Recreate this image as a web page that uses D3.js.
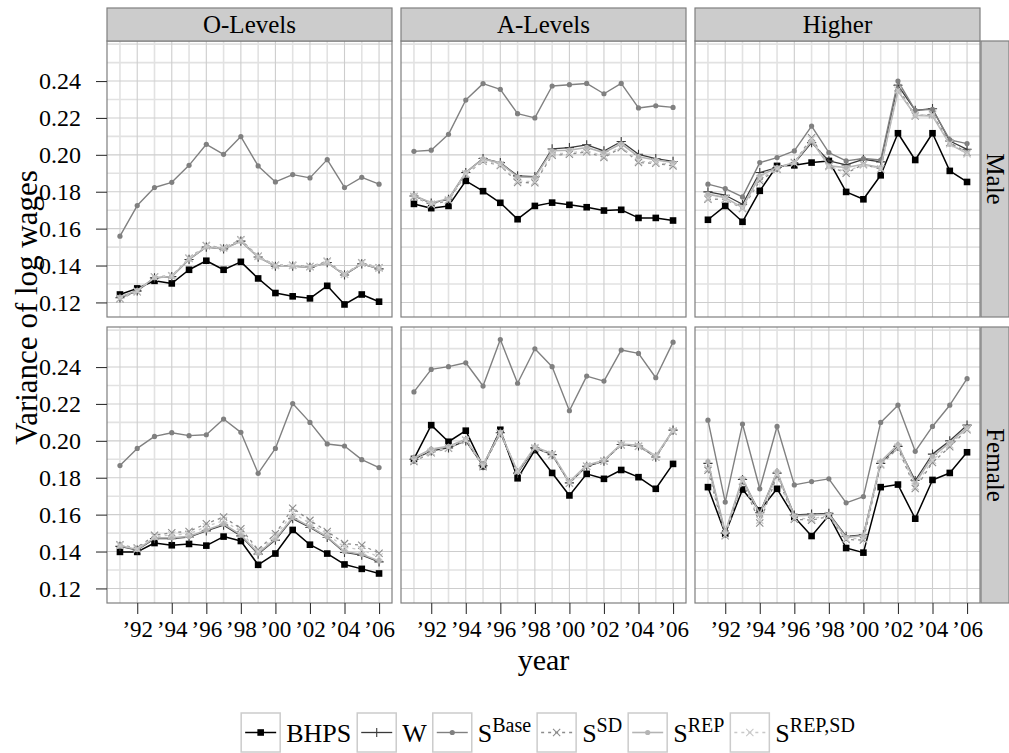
<!DOCTYPE html>
<html>
<head>
<meta charset="utf-8">
<script src="https://cdn.jsdelivr.net/npm/d3@7"></script>
<style>
  body { margin: 0; background: #fff; }
  svg text { font-family: "Liberation Serif", "DejaVu Serif", serif; fill: #000; }
</style>
</head>
<body>
<svg id="chart" width="1009" height="753" font-family="Liberation Serif, DejaVu Serif, serif"></svg>
<script>
// ---- categories and ticks ----
const years = [1991, 1992, 1993, 1994, 1995, 1996, 1997, 1998, 1999, 2000, 2001, 2002, 2003, 2004, 2005, 2006];
const educations = ["O-Levels", "A-Levels", "Higher"];
const sexes = ["Male", "Female"];
const xTickYears = [1992, 1994, 1996, 1998, 2000, 2002, 2004, 2006];
const xTickLabels = ["’92", "’94", "’96", "’98", "’00", "’02", "’04", "’06"];
const yTickValues = [0.12, 0.14, 0.16, 0.18, 0.20, 0.22, 0.24];
const yTickLabels = ["0.12", "0.14", "0.16", "0.18", "0.20", "0.22", "0.24"];

// ---- Male, O-Levels ----
const bhpsMaleO   = [0.1243, 0.1276, 0.1317, 0.1303, 0.1377, 0.1426, 0.1377, 0.1420, 0.1330, 0.1251, 0.1233, 0.1222, 0.1290, 0.1189, 0.1243, 0.1204];
const wMaleO      = [0.1225, 0.1262, 0.1333, 0.1340, 0.1433, 0.1500, 0.1490, 0.1532, 0.1446, 0.1396, 0.1397, 0.1390, 0.1416, 0.1349, 0.1409, 0.1382];
const baseMaleO   = [0.1559, 0.1725, 0.1823, 0.1851, 0.1943, 0.2057, 0.2003, 0.2099, 0.1940, 0.1853, 0.1893, 0.1875, 0.1974, 0.1823, 0.1878, 0.1841];
const sdMaleO     = [0.1220, 0.1258, 0.1338, 0.1345, 0.1440, 0.1508, 0.1497, 0.1540, 0.1451, 0.1402, 0.1401, 0.1395, 0.1423, 0.1353, 0.1415, 0.1388];
const repMaleO    = [0.1229, 0.1265, 0.1334, 0.1340, 0.1434, 0.1501, 0.1490, 0.1531, 0.1445, 0.1397, 0.1396, 0.1390, 0.1415, 0.1351, 0.1410, 0.1383];
const repsdMaleO  = [0.1223, 0.1260, 0.1337, 0.1343, 0.1438, 0.1506, 0.1495, 0.1537, 0.1449, 0.1400, 0.1400, 0.1393, 0.1420, 0.1352, 0.1413, 0.1386];

// ---- Male, A-Levels ----
const bhpsMaleA   = [0.1734, 0.1711, 0.1723, 0.1859, 0.1803, 0.1740, 0.1651, 0.1723, 0.1741, 0.1729, 0.1716, 0.1698, 0.1702, 0.1658, 0.1658, 0.1644];
const wMaleA      = [0.1777, 0.1738, 0.1759, 0.1904, 0.1980, 0.1958, 0.1886, 0.1882, 0.2032, 0.2039, 0.2054, 0.2021, 0.2072, 0.2003, 0.1980, 0.1964];
const baseMaleA   = [0.2019, 0.2025, 0.2111, 0.2297, 0.2386, 0.2355, 0.2223, 0.2200, 0.2373, 0.2380, 0.2387, 0.2331, 0.2387, 0.2254, 0.2266, 0.2257];
const sdMaleA     = [0.1772, 0.1730, 0.1752, 0.1895, 0.1965, 0.1942, 0.1850, 0.1848, 0.1998, 0.2003, 0.2016, 0.1985, 0.2039, 0.1958, 0.1954, 0.1940];
const repMaleA    = [0.1780, 0.1740, 0.1762, 0.1905, 0.1978, 0.1955, 0.1880, 0.1878, 0.2022, 0.2025, 0.2040, 0.2012, 0.2060, 0.1990, 0.1972, 0.1958];
const repsdMaleA  = [0.1776, 0.1733, 0.1756, 0.1898, 0.1968, 0.1946, 0.1858, 0.1855, 0.2005, 0.2010, 0.2022, 0.1993, 0.2045, 0.1965, 0.1960, 0.1946];

// ---- Male, Higher ----
const bhpsMaleH   = [0.1648, 0.1723, 0.1637, 0.1805, 0.1940, 0.1943, 0.1958, 0.1967, 0.1799, 0.1759, 0.1889, 0.2117, 0.1972, 0.2117, 0.1913, 0.1853];
const wMaleH      = [0.1799, 0.1781, 0.1732, 0.1904, 0.1931, 0.1954, 0.2066, 0.1967, 0.1945, 0.1976, 0.1962, 0.2377, 0.2241, 0.2250, 0.2075, 0.2030];
const baseMaleH   = [0.1841, 0.1817, 0.1772, 0.1958, 0.1985, 0.2021, 0.2156, 0.2012, 0.1967, 0.1980, 0.1972, 0.2400, 0.2241, 0.2247, 0.2081, 0.2061];
const sdMaleH     = [0.1759, 0.1759, 0.1709, 0.1859, 0.1922, 0.1958, 0.2093, 0.1940, 0.1900, 0.1949, 0.1922, 0.2364, 0.2211, 0.2220, 0.2066, 0.2012];
const repMaleH    = [0.1787, 0.1768, 0.1714, 0.1886, 0.1931, 0.1958, 0.2075, 0.1940, 0.1931, 0.1949, 0.1931, 0.2346, 0.2214, 0.2211, 0.2057, 0.2008];
const repsdMaleH  = [0.1765, 0.1762, 0.1712, 0.1870, 0.1925, 0.1955, 0.2085, 0.1935, 0.1910, 0.1945, 0.1925, 0.2350, 0.2215, 0.2215, 0.2060, 0.2005];

// ---- Female, O-Levels ----
const bhpsFemaleO  = [0.1398, 0.1398, 0.1446, 0.1434, 0.1441, 0.1432, 0.1481, 0.1457, 0.1328, 0.1389, 0.1517, 0.1437, 0.1389, 0.1330, 0.1306, 0.1281];
const wFemaleO     = [0.1428, 0.1408, 0.1470, 0.1470, 0.1478, 0.1512, 0.1543, 0.1485, 0.1386, 0.1462, 0.1578, 0.1530, 0.1476, 0.1395, 0.1380, 0.1344];
const baseFemaleO  = [0.1866, 0.1959, 0.2024, 0.2044, 0.2028, 0.2033, 0.2118, 0.2046, 0.1824, 0.1959, 0.2202, 0.2100, 0.1983, 0.1972, 0.1898, 0.1855];
const sdFemaleO    = [0.1437, 0.1419, 0.1488, 0.1502, 0.1509, 0.1551, 0.1587, 0.1524, 0.1410, 0.1497, 0.1635, 0.1569, 0.1509, 0.1443, 0.1434, 0.1391];
const repFemaleO   = [0.1431, 0.1411, 0.1474, 0.1475, 0.1482, 0.1517, 0.1549, 0.1490, 0.1391, 0.1468, 0.1585, 0.1535, 0.1480, 0.1400, 0.1385, 0.1349];
const repsdFemaleO = [0.1433, 0.1414, 0.1480, 0.1490, 0.1495, 0.1535, 0.1568, 0.1508, 0.1400, 0.1482, 0.1610, 0.1552, 0.1495, 0.1422, 0.1410, 0.1370];

// ---- Female, A-Levels ----
const bhpsFemaleA  = [0.1902, 0.2085, 0.1995, 0.2055, 0.1862, 0.2060, 0.1797, 0.1950, 0.1826, 0.1704, 0.1821, 0.1794, 0.1842, 0.1803, 0.1740, 0.1875];
const wFemaleA     = [0.1900, 0.1945, 0.1962, 0.2000, 0.1865, 0.2044, 0.1825, 0.1962, 0.1925, 0.1772, 0.1862, 0.1890, 0.1980, 0.1972, 0.1912, 0.2058];
const baseFemaleA  = [0.2265, 0.2387, 0.2402, 0.2423, 0.2297, 0.2549, 0.2312, 0.2499, 0.2402, 0.2163, 0.2351, 0.2324, 0.2492, 0.2474, 0.2342, 0.2535];
const sdFemaleA    = [0.1888, 0.1935, 0.1960, 0.2003, 0.1860, 0.2040, 0.1835, 0.1960, 0.1925, 0.1770, 0.1862, 0.1890, 0.1978, 0.1970, 0.1912, 0.2052];
const repFemaleA   = [0.1908, 0.1955, 0.1970, 0.2008, 0.1870, 0.2048, 0.1832, 0.1967, 0.1931, 0.1778, 0.1868, 0.1895, 0.1983, 0.1976, 0.1918, 0.2057];
const repsdFemaleA = [0.1895, 0.1940, 0.1963, 0.2004, 0.1864, 0.2042, 0.1838, 0.1963, 0.1927, 0.1773, 0.1864, 0.1892, 0.1979, 0.1972, 0.1914, 0.2054];

// ---- Female, Higher ----
const bhpsFemaleH  = [0.1749, 0.1497, 0.1736, 0.1623, 0.1740, 0.1587, 0.1484, 0.1596, 0.1419, 0.1394, 0.1749, 0.1763, 0.1578, 0.1788, 0.1826, 0.1938];
const wFemaleH     = [0.1878, 0.1500, 0.1790, 0.1610, 0.1825, 0.1598, 0.1603, 0.1607, 0.1482, 0.1490, 0.1878, 0.1970, 0.1785, 0.1928, 0.2000, 0.2085];
const baseFemaleH  = [0.2112, 0.1668, 0.2091, 0.1740, 0.2078, 0.1761, 0.1779, 0.1794, 0.1664, 0.1698, 0.2100, 0.2193, 0.1943, 0.2078, 0.2193, 0.2337];
const sdFemaleH    = [0.1840, 0.1485, 0.1780, 0.1555, 0.1812, 0.1575, 0.1570, 0.1590, 0.1465, 0.1462, 0.1870, 0.1960, 0.1742, 0.1882, 0.1968, 0.2060];
const repFemaleH   = [0.1887, 0.1505, 0.1797, 0.1603, 0.1835, 0.1593, 0.1597, 0.1602, 0.1476, 0.1486, 0.1887, 0.1980, 0.1770, 0.1915, 0.1990, 0.2072];
const repsdFemaleH = [0.1850, 0.1490, 0.1785, 0.1570, 0.1818, 0.1580, 0.1578, 0.1595, 0.1470, 0.1470, 0.1875, 0.1965, 0.1752, 0.1895, 0.1978, 0.2065];

// series keys in drawing / legend order
const seriesKeys = ["BHPS", "W", "SBase", "SSD", "SREP", "SREPSD"];
const seriesLabels = [
  { main: "BHPS", sup: "" },
  { main: "W", sup: "" },
  { main: "S", sup: "Base" },
  { main: "S", sup: "SD" },
  { main: "S", sup: "REP" },
  { main: "S", sup: "REP,SD" }
];

const panelData = {
  "Male|O-Levels":   [bhpsMaleO, wMaleO, baseMaleO, sdMaleO, repMaleO, repsdMaleO],
  "Male|A-Levels":   [bhpsMaleA, wMaleA, baseMaleA, sdMaleA, repMaleA, repsdMaleA],
  "Male|Higher":     [bhpsMaleH, wMaleH, baseMaleH, sdMaleH, repMaleH, repsdMaleH],
  "Female|O-Levels": [bhpsFemaleO, wFemaleO, baseFemaleO, sdFemaleO, repFemaleO, repsdFemaleO],
  "Female|A-Levels": [bhpsFemaleA, wFemaleA, baseFemaleA, sdFemaleA, repFemaleA, repsdFemaleA],
  "Female|Higher":   [bhpsFemaleH, wFemaleH, baseFemaleH, sdFemaleH, repFemaleH, repsdFemaleH]
};

// ---- visual styling for each series ----
const styles = {
  BHPS:   { color: "#000000", dash: null,  marker: "square", width: 1.5 },
  W:      { color: "#3a3a3a", dash: null,  marker: "plus",   width: 1.3 },
  SBase:  { color: "#808080", dash: null,  marker: "dot",    width: 1.4 },
  SSD:    { color: "#8c8c8c", dash: "3,4", marker: "cross",  width: 1.3 },
  SREP:   { color: "#b4b4b4", dash: null,  marker: "dot",    width: 1.6 },
  SREPSD: { color: "#c8c8c8", dash: "3,4", marker: "cross",  width: 1.3 }
};

// ---- layout ----
const svg = d3.select("#chart");
const fontStack = "Liberation Serif, DejaVu Serif, serif";
const plotLeft = 107, plotTop = 41;
const panelW = 285, panelH = 276, gapX = 9, gapY = 10;
const stripH = 33, rightStripW = 28;
const fontTick = 24, fontXTick = 23, fontStrip = 25, fontTitle = 30;

const allValues = Object.values(panelData).flat(2);
const [vMin, vMax] = d3.extent(allValues);
const padY = (vMax - vMin) * 0.05;
const y = d3.scaleLinear().domain([vMin - padY, vMax + padY]).range([panelH, 0]);
const padX = (years[years.length - 1] - years[0]) * 0.05;
const x = d3.scaleLinear().domain([years[0] - padX, years[years.length - 1] + padX]).range([0, panelW]);

const colX = c => plotLeft + c * (panelW + gapX);
const rowY = r => plotTop + r * (panelH + gapY);

const line = d3.line().x((d, i) => x(years[i])).y(d => y(d));

function drawMarker(g, type, color, cx, cy) {
  if (type === "square") {
    g.append("rect").attr("x", cx - 3.3).attr("y", cy - 3.3).attr("width", 6.6).attr("height", 6.6).attr("fill", color);
  } else if (type === "dot") {
    g.append("circle").attr("cx", cx).attr("cy", cy).attr("r", 2.6).attr("fill", color);
  } else if (type === "plus") {
    const s = 4.6;
    g.append("path").attr("d", `M${cx - s},${cy}H${cx + s}M${cx},${cy - s}V${cy + s}`)
      .attr("stroke", color).attr("stroke-width", 1.1).attr("fill", "none");
  } else if (type === "cross") {
    const s = 3.6;
    g.append("path").attr("d", `M${cx - s},${cy - s}L${cx + s},${cy + s}M${cx - s},${cy + s}L${cx + s},${cy - s}`)
      .attr("stroke", color).attr("stroke-width", 1.1).attr("fill", "none");
  }
}

// grid values
const yGridAll = d3.range(11, 27).map(v => v / 100).filter(v => v >= y.domain()[0] && v <= y.domain()[1]);
const yMajor = new Set(yTickValues.map(v => v.toFixed(2)));
const xGridAll = years;
const xMajor = new Set(xTickYears);

sexes.forEach((sex, r) => {
  educations.forEach((edu, c) => {
    const g = svg.append("g").attr("transform", `translate(${colX(c)},${rowY(r)})`);
    g.append("rect").attr("width", panelW).attr("height", panelH).attr("fill", "#ffffff");

    // minor grid first, then major
    const minorY = yGridAll.filter(v => !yMajor.has(v.toFixed(2)));
    const majorY = yGridAll.filter(v => yMajor.has(v.toFixed(2)));
    g.selectAll(".gminy").data(minorY).join("line")
      .attr("x1", 0).attr("x2", panelW).attr("y1", d => y(d)).attr("y2", d => y(d))
      .attr("stroke", "#e2e2e2").attr("stroke-width", 1.6);
    g.selectAll(".gminx").data(xGridAll.filter(v => !xMajor.has(v))).join("line")
      .attr("y1", 0).attr("y2", panelH).attr("x1", d => x(d)).attr("x2", d => x(d))
      .attr("stroke", "#e2e2e2").attr("stroke-width", 1.6);
    g.selectAll(".gmajy").data(majorY).join("line")
      .attr("x1", 0).attr("x2", panelW).attr("y1", d => y(d)).attr("y2", d => y(d))
      .attr("stroke", "#cdcdcd").attr("stroke-width", 1.1);
    g.selectAll(".gmajx").data(xGridAll.filter(v => xMajor.has(v))).join("line")
      .attr("y1", 0).attr("y2", panelH).attr("x1", d => x(d)).attr("x2", d => x(d))
      .attr("stroke", "#cdcdcd").attr("stroke-width", 1.1);

    const seriesList = panelData[`${sex}|${edu}`];
    seriesKeys.forEach((key, si) => {
      const st = styles[key];
      const vals = seriesList[si];
      const sg = g.append("g");
      sg.append("path").datum(vals).attr("d", line)
        .attr("fill", "none").attr("stroke", st.color).attr("stroke-width", st.width)
        .attr("stroke-dasharray", st.dash).attr("stroke-linejoin", "round");
      vals.forEach((v, i) => drawMarker(sg, st.marker, st.color, x(years[i]), y(v)));
    });

    g.append("rect").attr("width", panelW).attr("height", panelH)
      .attr("fill", "none").attr("stroke", "#7f7f7f").attr("stroke-width", 1.2);
  });
});

// top strips
educations.forEach((edu, c) => {
  const g = svg.append("g").attr("transform", `translate(${colX(c)},${plotTop - stripH})`);
  g.append("rect").attr("width", panelW).attr("height", stripH)
    .attr("fill", "#cccccc").attr("stroke", "#7f7f7f").attr("stroke-width", 1.2);
  g.append("text").attr("x", panelW / 2).attr("y", stripH / 2 + 8)
    .attr("text-anchor", "middle").attr("font-size", fontStrip).attr("font-family", fontStack).text(edu);
});

// right strips
const rightX = colX(2) + panelW + 1;
sexes.forEach((sex, r) => {
  const g = svg.append("g").attr("transform", `translate(${rightX},${rowY(r)})`);
  g.append("rect").attr("width", rightStripW).attr("height", panelH)
    .attr("fill", "#cccccc").attr("stroke", "#7f7f7f").attr("stroke-width", 1.2);
  g.append("text").attr("transform", `translate(${rightStripW / 2 - 8.5},${panelH / 2}) rotate(90)`)
    .attr("text-anchor", "middle").attr("font-size", fontStrip).attr("font-family", fontStack).text(sex);
});

// axes
function styleAxis(sel, size) {
  sel.attr("font-family", fontStack).attr("font-size", size);
  sel.select(".domain").remove();
  sel.selectAll(".tick line").attr("stroke", "#333333").attr("stroke-width", 1.1);
  sel.selectAll(".tick text").attr("font-size", size).attr("fill", "#000");
}

educations.forEach((edu, c) => {
  svg.append("g")
    .attr("transform", `translate(${colX(c)},${rowY(1) + panelH})`)
    .call(d3.axisBottom(x).tickValues(xTickYears).tickFormat((d, i) => xTickLabels[i]).tickSize(11).tickPadding(7))
    .call(styleAxis, fontXTick);
});

sexes.forEach((sex, r) => {
  svg.append("g")
    .attr("transform", `translate(${plotLeft},${rowY(r)})`)
    .call(d3.axisLeft(y).tickValues(yTickValues).tickFormat((d, i) => yTickLabels[i]).tickSize(11).tickPadding(15))
    .call(styleAxis, fontTick);
});

// axis titles
const panelsRight = colX(2) + panelW;
svg.append("text").attr("x", (plotLeft + panelsRight) / 2).attr("y", 670)
  .attr("text-anchor", "middle").attr("font-size", fontTitle).attr("font-family", fontStack).text("year");
svg.append("text").attr("transform", `translate(37,${(plotTop - stripH + rowY(1) + panelH) / 2 + 2}) rotate(-90)`)
  .attr("text-anchor", "middle").attr("font-size", 31).attr("font-family", fontStack).text("Variance of log wages");

// legend
const keySize = 39, legendTop = 713, legendGap = 6, legendCenter = 548;
const legend = svg.append("g");
const items = seriesKeys.map((key, i) => {
  const item = legend.append("g");
  item.append("rect").attr("width", keySize).attr("height", keySize)
    .attr("fill", "#ffffff").attr("stroke", "#cccccc").attr("stroke-width", 1.5);
  const st = styles[key];
  item.append("line").attr("x1", 4).attr("x2", keySize - 4).attr("y1", keySize / 2).attr("y2", keySize / 2)
    .attr("stroke", st.color).attr("stroke-width", st.width).attr("stroke-dasharray", st.dash);
  drawMarker(item, st.marker, st.color, keySize / 2, keySize / 2);
  const t = item.append("text").attr("x", keySize + legendGap).attr("y", keySize / 2 + 9)
    .attr("font-size", 26).attr("font-family", fontStack);
  t.append("tspan").text(seriesLabels[i].main);
  if (seriesLabels[i].sup) {
    t.append("tspan").attr("font-size", 20).attr("dy", -10).text(seriesLabels[i].sup);
  }
  const w = keySize + legendGap + t.node().getComputedTextLength();
  return { item, w };
});
const totalW = d3.sum(items, d => d.w) + legendGap * (items.length - 1);
let cursor = legendCenter - totalW / 2;
items.forEach(d => {
  d.item.attr("transform", `translate(${cursor},${legendTop})`);
  cursor += d.w + legendGap;
});
</script>
</body>
</html>
